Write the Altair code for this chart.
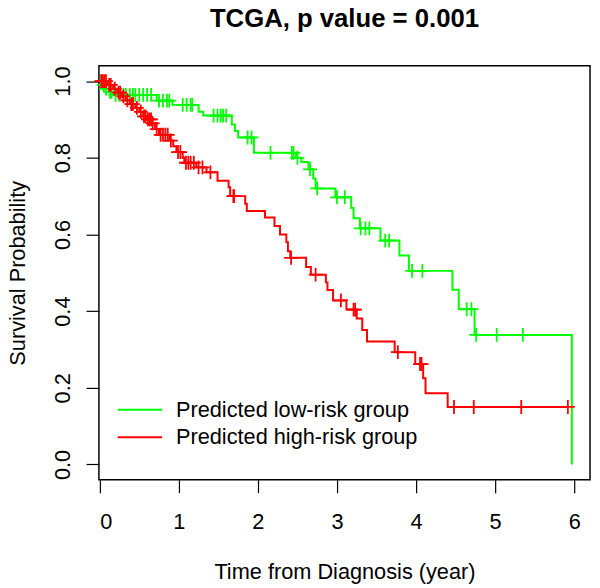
import altair as alt
import pandas as pd

FONT = "Liberation Sans"

groups = ["Predicted low-risk group", "Predicted high-risk group"]
colors = ["#00FF00", "#FF0000"]

# Kaplan-Meier step points (time in years, survival probability)
low_t = [0.0, 0.03, 0.06, 0.12, 0.18, 0.72, 0.92, 1.25, 1.31, 1.67, 1.71, 1.75, 1.95,
         2.48, 2.55, 2.64, 2.70, 2.73, 2.98, 3.18, 3.21, 3.29, 3.55, 3.79, 3.91,
         4.46, 4.54, 4.74, 5.97]
low_s = [1.0, 0.99, 0.98, 0.972, 0.964, 0.949, 0.938, 0.92, 0.91, 0.887, 0.87, 0.853, 0.813,
         0.80, 0.789, 0.77, 0.746, 0.72, 0.697, 0.669, 0.642, 0.616, 0.584, 0.545, 0.505,
         0.456, 0.405, 0.338, 0.0]

high_t = [0.0, 0.10, 0.17, 0.22, 0.28, 0.33, 0.38, 0.45, 0.50, 0.55, 0.60, 0.66, 0.70,
          0.75, 0.88, 0.93, 0.97, 1.05, 1.07, 1.22, 1.35, 1.49, 1.63, 1.65, 1.84, 1.86,
          2.09, 2.21, 2.28, 2.36, 2.38, 2.41, 2.61, 2.67, 2.86, 2.88, 2.95, 3.12, 3.25,
          3.32, 3.38, 3.73, 3.99, 4.09, 4.12, 4.40, 5.92]
high_s = [1.0, 0.99, 0.98, 0.97, 0.96, 0.95, 0.94, 0.93, 0.92, 0.908, 0.90, 0.89, 0.875,
          0.86, 0.845, 0.83, 0.815, 0.80, 0.787, 0.775, 0.762, 0.74, 0.723, 0.70, 0.68, 0.661,
          0.644, 0.622, 0.60, 0.58, 0.556, 0.539, 0.515, 0.495, 0.475, 0.455, 0.428, 0.404, 0.381,
          0.351, 0.321, 0.293, 0.262, 0.225, 0.186, 0.15, 0.15]

# Censoring times ("+" marks)
low_cens = [0.02, 0.05, 0.08, 0.13, 0.15, 0.2, 0.25, 0.3, 0.33, 0.38, 0.42, 0.45, 0.5,
            0.55, 0.6, 0.65, 0.75, 0.8, 0.85, 0.88, 1.05, 1.1, 1.15, 1.17, 1.44, 1.49,
            1.53, 1.56, 1.6, 1.87, 1.92, 2.16, 2.43, 2.45, 2.5, 2.66, 2.75, 3.0, 3.1,
            3.3, 3.36, 3.41, 3.61, 3.66, 3.95, 4.08, 4.64, 4.70, 4.76, 5.02, 5.35]
high_cens = [0.02, 0.04, 0.06, 0.08, 0.12, 0.14, 0.19, 0.24, 0.26, 0.30, 0.35, 0.40, 0.42,
             0.47, 0.52, 0.56, 0.58, 0.61, 0.63, 0.65, 0.67, 0.72, 0.77, 0.80, 0.83, 0.86,
             0.90, 0.99, 1.02, 1.09, 1.12, 1.15, 1.19, 1.25, 1.30, 1.40, 1.69, 1.70, 2.42,
             2.73, 3.05, 3.21, 3.23, 3.77, 4.05, 4.07, 4.48, 4.73, 5.33, 5.92]

x_ticks = [0, 1, 2, 3, 4, 5, 6]
y_ticks = [0.0, 0.2, 0.4, 0.6, 0.8, 1.0]


def surv_at(ts, ss, t):
    v = ss[0]
    for ti, si in zip(ts, ss):
        if ti <= t:
            v = si
    return v


def curve_df(ts, ss, g):
    return pd.DataFrame({"t": ts, "s": ss, "group": g})


def cens_df(ts, ss, cens, g):
    return pd.DataFrame({"t": cens, "s": [surv_at(ts, ss, c) for c in cens], "group": g})


xscale = alt.Scale(domain=[-0.01, 6.2], nice=False, zero=False)
yscale = alt.Scale(domain=[-0.04, 1.04], nice=False, zero=False)
cscale = alt.Scale(domain=groups, range=colors)

xaxis = alt.Axis(values=x_ticks, title="Time from Diagnosis (year)", grid=False, domain=False,
                 tickSize=13, tickColor="black", tickWidth=1.2, labelFontSize=22,
                 labelFont=FONT, labelColor="black", labelPadding=19, titleFont=FONT,
                 titleFontSize=22, titleFontWeight="normal", titleColor="black",
                 titlePadding=30, format="d")
yaxis = alt.Axis(values=y_ticks, title="Survival Probability", grid=False, domain=False,
                 tickSize=13, tickColor="black", tickWidth=1.2, labelFontSize=22,
                 labelFont=FONT, labelColor="black", labelAngle=270, labelAlign="center",
                 labelBaseline="alphabetic", labelPadding=17, format=".1f",
                 titleFont=FONT, titleFontSize=22, titleFontWeight="normal",
                 titleColor="black", titlePadding=22)

legend = alt.Legend(title=None, orient="none", legendX=18, legendY=335, symbolType="stroke",
                    symbolSize=2025, symbolStrokeWidth=2, labelFontSize=22, labelFont=FONT,
                    labelColor="black", labelLimit=500, labelOffset=13, clipHeight=26,
                    rowPadding=2)

cens_shape = "M-1,0L1,0M0,-1L0,1"


def line_layer(df):
    return alt.Chart(df).mark_line(interpolate="step-after", strokeWidth=2).encode(
        x=alt.X("t:Q", scale=xscale, axis=xaxis),
        y=alt.Y("s:Q", scale=yscale, axis=yaxis),
        color=alt.Color("group:N", scale=cscale, legend=legend),
        order=alt.Order("t:Q"),
    )


def cens_layer(df, col):
    return alt.Chart(df).mark_point(shape=cens_shape, filled=False, size=196,
                                    strokeWidth=1.8, color=col, opacity=1).encode(
        x=alt.X("t:Q", scale=xscale, axis=xaxis),
        y=alt.Y("s:Q", scale=yscale, axis=yaxis),
    )


low_curve = curve_df(low_t, low_s, groups[0])
high_curve = curve_df(high_t, high_s, groups[1])
low_c = cens_df(low_t, low_s, low_cens, groups[0])
high_c = cens_df(high_t, high_s, high_cens, groups[1])

chart = alt.layer(
    line_layer(low_curve),
    cens_layer(low_c, colors[0]),
    line_layer(high_curve),
    cens_layer(high_c, colors[1]),
).properties(
    width=497,
    height=419,
    title=alt.TitleParams("TCGA, p value = 0.001", fontSize=26, fontWeight="bold",
                          font=FONT, color="black", anchor="middle", offset=34),
    padding={"left": 92, "top": 55, "right": 2, "bottom": 104},
    autosize=alt.AutoSizeParams(type="none"),
).configure(
    background="white"
).configure_view(
    stroke="black", strokeWidth=1.5
)

chart.save("out.html", embed_options={"renderer": "svg", "actions": False})
